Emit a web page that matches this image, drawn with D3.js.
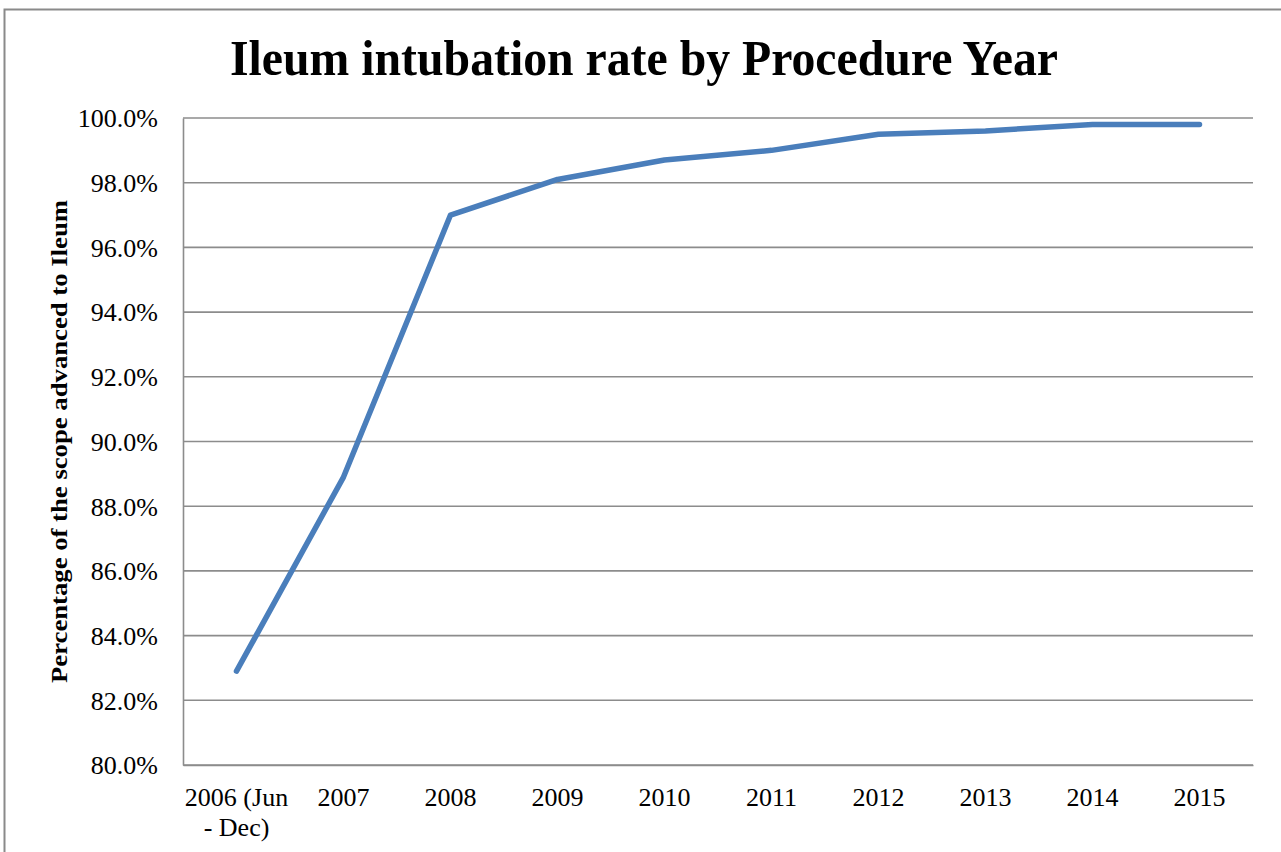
<!DOCTYPE html>
<html>
<head>
<meta charset="utf-8">
<script src="https://cdn.jsdelivr.net/npm/d3@7/dist/d3.min.js"></script>
<style>
  html, body { margin: 0; padding: 0; background: #fff; }
  svg { display: block; }
  text { font-family: "Liberation Serif", "Times New Roman", serif; fill: #000; }
</style>
</head>
<body>
<svg id="chart" width="1281" height="852"></svg>
<script>
// Procedure years and ileum intubation rates (%)
const years = ["2006 (Jun - Dec)", "2007", "2008", "2009", "2010", "2011", "2012", "2013", "2014", "2015"];
const rates = [82.9, 88.9, 97.0, 98.1, 98.7, 99.0, 99.5, 99.6, 99.8, 99.8];
const yTicks = [80, 82, 84, 86, 88, 90, 92, 94, 96, 98, 100];

const titleText = "Ileum intubation rate by Procedure Year";
const yAxisTitle = "Percentage of the scope advanced to Ileum";

const svg = d3.select("#chart");
const plot = { left: 183, right: 1253, top: 118, bottom: 765 };

// Outer chart frame
svg.append("rect")
  .attr("x", 4.5).attr("y", 9.5)
  .attr("width", 1300).attr("height", 900)
  .attr("fill", "none").attr("stroke", "#8a8a8a").attr("stroke-width", 2);

const x = d3.scaleBand().domain(years).range([plot.left, plot.right]);
const y = d3.scaleLinear().domain([80, 100]).range([plot.bottom, plot.top]);

// Horizontal gridlines
svg.append("g").selectAll("line").data(yTicks).join("line")
  .attr("x1", plot.left).attr("x2", plot.right)
  .attr("y1", d => y(d)).attr("y2", d => y(d))
  .attr("stroke", "#8c8c8c").attr("stroke-width", 1.6);

// Y axis
const yAxis = svg.append("g")
  .attr("transform", `translate(${plot.left},0)`)
  .call(d3.axisLeft(y).tickValues(yTicks).tickSize(0).tickPadding(25)
    .tickFormat(d => d.toFixed(1) + "%"));
yAxis.select(".domain").attr("stroke", "#8c8c8c").attr("stroke-width", 1.6);
yAxis.selectAll("text")
  .style("font-family", '"Liberation Serif", serif')
  .style("font-size", "26px").attr("fill", "#000").attr("dy", "0.34em");

// X axis
const xAxis = svg.append("g")
  .attr("transform", `translate(0,${plot.bottom})`)
  .call(d3.axisBottom(x).tickSize(0).tickPadding(0).tickFormat(""));
xAxis.select(".domain").attr("stroke", "#8c8c8c").attr("stroke-width", 1.6);

// Category labels, wrapped where needed
const labelLines = { "2006 (Jun - Dec)": ["2006 (Jun", "- Dec)"] };
xAxis.selectAll(".tick").each(function (d) {
  const lines = labelLines[d] || [d];
  const t = d3.select(this).append("text")
    .attr("text-anchor", "middle")
    .style("font-size", "26px");
  lines.forEach((ln, i) => {
    t.append("tspan").attr("x", 0).attr("y", 41 + i * 30).text(ln);
  });
});

// Data line
const line = d3.line()
  .x((d, i) => x(years[i]) + x.bandwidth() / 2)
  .y(d => y(d));
svg.append("path")
  .datum(rates)
  .attr("d", line)
  .attr("fill", "none")
  .attr("stroke", "#4a7ebb")
  .attr("stroke-width", 5.5)
  .attr("stroke-linejoin", "round")
  .attr("stroke-linecap", "round");

// Chart title
svg.append("text")
  .attr("x", 644).attr("y", 75)
  .attr("text-anchor", "middle")
  .attr("textLength", 828).attr("lengthAdjust", "spacingAndGlyphs")
  .style("font-size", "50px").style("font-weight", "bold")
  .text(titleText);

// Y axis title
svg.append("text")
  .attr("transform", `translate(67,${(plot.top + plot.bottom) / 2}) rotate(-90)`)
  .attr("text-anchor", "middle")
  .attr("textLength", 483).attr("lengthAdjust", "spacingAndGlyphs")
  .style("font-size", "23px").style("font-weight", "bold")
  .text(yAxisTitle);
</script>
</body>
</html>
